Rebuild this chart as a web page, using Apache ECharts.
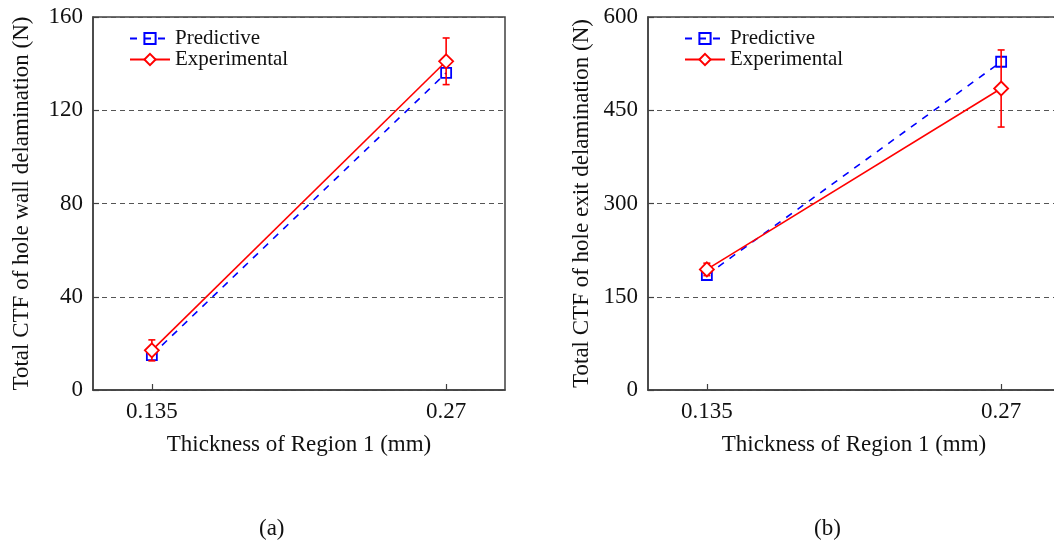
<!DOCTYPE html>
<html>
<head>
<meta charset="utf-8">
<script src="https://cdn.jsdelivr.net/npm/echarts@6/dist/echarts.min.js"></script>
<style>
html,body{margin:0;padding:0;background:#fff;}
#chart{width:1054px;height:546px;}
</style>
</head>
<body>
<div id="chart"></div>
<script>
// ---- data ----
const thickness = [0.135, 0.27];
const xTickValues = [0.135, 0.27];
const wallPred = [15, 136];
const wallExp = [17, 141];
const wallErr = [4.5, 10];
const exitPred = [185, 528];
const exitExp = [194, 485];
const exitErr = [10, 62];
const wallTicks = {min: 0, max: 160, interval: 40};
const exitTicks = {min: 0, max: 600, interval: 150};
const xRange = {min: 0.108, max: 0.297};
const xName = 'Thickness of Region 1 (mm)';
const yNames = ['Total CTF of hole wall delamination (N)', 'Total CTF of hole exit delamination (N)'];
const captions = ['(a)', '(b)'];

const FONT = "'Liberation Serif', 'Times New Roman', serif";
const TXT = '#111111';
const AX = '#404040';
const FS = 23;

function pts(vals){ return thickness.map((x,i)=>[x, vals[i]]); }
function errPts(vals, err){ return thickness.map((x,i)=>[x, vals[i]-err[i], vals[i]+err[i]]); }

const chart = echarts.init(document.getElementById('chart'), null, {renderer:'canvas'});

const grids = [
  {left: 93, top: 17, width: 412, height: 373, show: true, borderColor: AX, borderWidth: 1.5, backgroundColor: 'transparent', outerBoundsMode: 'none', containLabel: false},
  {left: 648, top: 17, width: 412, height: 373, show: true, borderColor: AX, borderWidth: 1.5, backgroundColor: 'transparent', outerBoundsMode: 'none', containLabel: false}
];

function xAxis(gi){
  return {
    type: 'value', gridIndex: gi, min: xRange.min, max: xRange.max,
    name: xName, nameLocation: 'middle', nameGap: 43,
    nameTextStyle: {fontFamily: FONT, fontSize: FS, color: TXT},
    axisLine: {show: true, lineStyle: {color: AX, width: 1.5}},
    axisTick: {show: true, inside: true, length: 6, customValues: xTickValues, lineStyle: {color: AX, width: 1.2}},
    axisLabel: {show: true, customValues: xTickValues, margin: 10, fontFamily: FONT, fontSize: FS, color: TXT,
      formatter: v => String(v)},
    splitLine: {show: false}
  };
}
function yAxis(gi, t, name, gap){
  return {
    type: 'value', gridIndex: gi, min: t.min, max: t.max, interval: t.interval,
    name: name, nameLocation: 'middle', nameGap: gap, nameRotate: 90,
    nameTextStyle: {fontFamily: FONT, fontSize: FS, color: TXT},
    axisLine: {show: true, lineStyle: {color: AX, width: 1.5}},
    axisTick: {show: true, inside: true, length: 6, lineStyle: {color: AX, width: 1.2}},
    axisLabel: {margin: 10, fontFamily: FONT, fontSize: FS, color: TXT},
    splitLine: {show: true, lineStyle: {color: '#555', width: 1.2, type: [5, 4]}}
  };
}

function errSeries(gi, vals, err){
  return {
    type: 'custom', xAxisIndex: gi, yAxisIndex: gi, z: 3,
    data: errPts(vals, err),
    encode: {x: 0, y: [1, 2]},
    renderItem: function(params, api){
      const x = api.value(0);
      const lo = api.coord([x, api.value(1)]);
      const hi = api.coord([x, api.value(2)]);
      const cw = 3.5;
      const st = {stroke: '#ff0000', lineWidth: 1.6};
      return {type: 'group', children: [
        {type: 'line', shape: {x1: lo[0], y1: lo[1], x2: hi[0], y2: hi[1]}, style: st},
        {type: 'line', shape: {x1: hi[0]-cw, y1: hi[1], x2: hi[0]+cw, y2: hi[1]}, style: st},
        {type: 'line', shape: {x1: lo[0]-cw, y1: lo[1], x2: lo[0]+cw, y2: lo[1]}, style: st}
      ]};
    },
    silent: true
  };
}
function predSeries(gi, vals){
  return {
    name: 'Predictive', type: 'line', xAxisIndex: gi, yAxisIndex: gi, z: 2,
    data: pts(vals), symbol: 'rect', symbolSize: 10, showAllSymbol: true,
    lineStyle: {color: '#0000ff', width: 1.6, type: [7, 7]},
    itemStyle: {color: 'rgba(255,255,255,0)', borderColor: '#0000ff', borderWidth: 1.8},
    animation: false
  };
}
function expSeries(gi, vals){
  return {
    name: 'Experimental', type: 'line', xAxisIndex: gi, yAxisIndex: gi, z: 4,
    data: pts(vals), symbol: 'diamond', symbolSize: 14,
    lineStyle: {color: '#ff0000', width: 1.6},
    itemStyle: {color: '#ffffff', borderColor: '#ff0000', borderWidth: 1.8},
    animation: false
  };
}
function legend(left){
  return {
    orient: 'vertical', left: left, top: 28, padding: 0, itemGap: 0,
    itemWidth: 40, itemHeight: 14,
    data: ['Predictive', 'Experimental'],
    textStyle: {fontFamily: FONT, fontSize: 21, color: TXT, lineHeight: 20},
    selectedMode: false
  };
}

const option = {
  animation: false,
  backgroundColor: '#ffffff',
  grid: grids,
  xAxis: [xAxis(0), xAxis(1)],
  yAxis: [yAxis(0, wallTicks, yNames[0], 60), yAxis(1, exitTicks, yNames[1], 55)],
  legend: [legend(129), legend(684)],
  series: [
    predSeries(0, wallPred), errSeries(0, wallExp, wallErr), expSeries(0, wallExp),
    predSeries(1, exitPred), errSeries(1, exitExp, exitErr), expSeries(1, exitExp)
  ],
  graphic: [
    {type: 'text', left: 259, top: 517, style: {text: captions[0], font: FS + 'px ' + FONT, fill: TXT}},
    {type: 'text', left: 814, top: 517, style: {text: captions[1], font: FS + 'px ' + FONT, fill: TXT}}
  ]
};
chart.setOption(option);
</script>
</body>
</html>
